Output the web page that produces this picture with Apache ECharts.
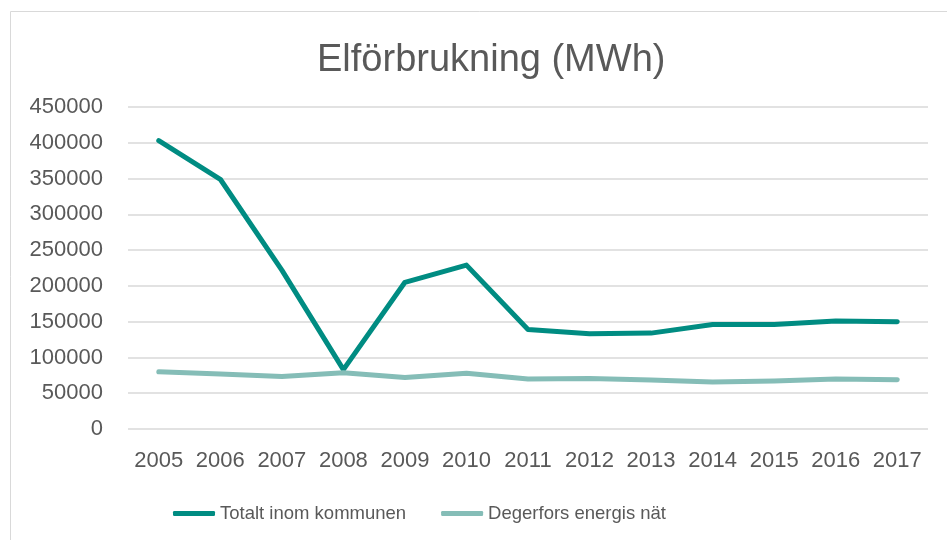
<!DOCTYPE html>
<html><head><meta charset="utf-8">
<script src="https://cdn.jsdelivr.net/npm/echarts@6/dist/echarts.min.js"></script>
<style>html,body{margin:0;padding:0;background:#fff}#c{width:947px;height:540px}</style>
</head><body><div id="c"></div>
<script>
const years = ['2005','2006','2007','2008','2009','2010','2011','2012','2013','2014','2015','2016','2017'];
const totalt = [403000, 349000, 222000, 83000, 205000, 229000, 139000, 133000, 134000, 146000, 146000, 151000, 150000];
const degerfors = [80000, 77000, 73500, 78500, 72000, 78000, 70000, 70500, 68500, 65700, 67000, 69900, 68900];
const yTicks = {min: 0, max: 450000, interval: 50000};
const chart = echarts.init(document.getElementById('c'));
const txt = '#595959';
const font = 'Liberation Sans, Arial, sans-serif';
chart.setOption({
  animation: false,
  graphic: [{type:'rect', shape:{x:10.5, y:11.5, width:960, height:560}, style:{fill:'none', stroke:'#d9d9d9', lineWidth:1}}],
  title: {text: 'Elförbrukning (MWh)', left: 312, top: 37, textStyle: {fontFamily: font, fontSize: 38, fontWeight: 'normal', color: txt}},
  grid: {left: 128, right: 19, top: 107, bottom: 111},
  legend: {bottom: 12, left: 168, itemWidth: 42, itemHeight: 5, itemGap: 35,
    textStyle: {fontFamily: font, fontSize: 18.5, color: txt},
    data: [{name:'Totalt inom kommunen', icon:'roundRect'}, {name:'Degerfors energis nät', icon:'roundRect'}]},
  xAxis: {type: 'category', data: years, boundaryGap: true,
    axisLine: {show: false}, axisTick: {show: false},
    axisLabel: {fontFamily: font, fontSize: 22, color: txt, margin: 21, interval: 0, hideOverlap: false}},
  yAxis: {type: 'value', min: yTicks.min, max: yTicks.max, interval: yTicks.interval,
    axisLine: {show: false}, axisTick: {show: false},
    axisLabel: {fontFamily: font, fontSize: 22, color: txt, margin: 25, formatter: v => String(v)},
    splitLine: {lineStyle: {color: '#d9d9d9', width: 1.5}}},
  series: [
    {name: 'Totalt inom kommunen', type: 'line', data: totalt, symbol: 'none', itemStyle:{color:'#008c82'},
     lineStyle: {color: '#008c82', width: 5, cap: 'round', join: 'round'}},
    {name: 'Degerfors energis nät', type: 'line', data: degerfors, symbol: 'none', itemStyle:{color:'#85bdb7'},
     lineStyle: {color: '#85bdb7', width: 5, cap: 'round', join: 'round'}}
  ]
});
</script></body></html>
